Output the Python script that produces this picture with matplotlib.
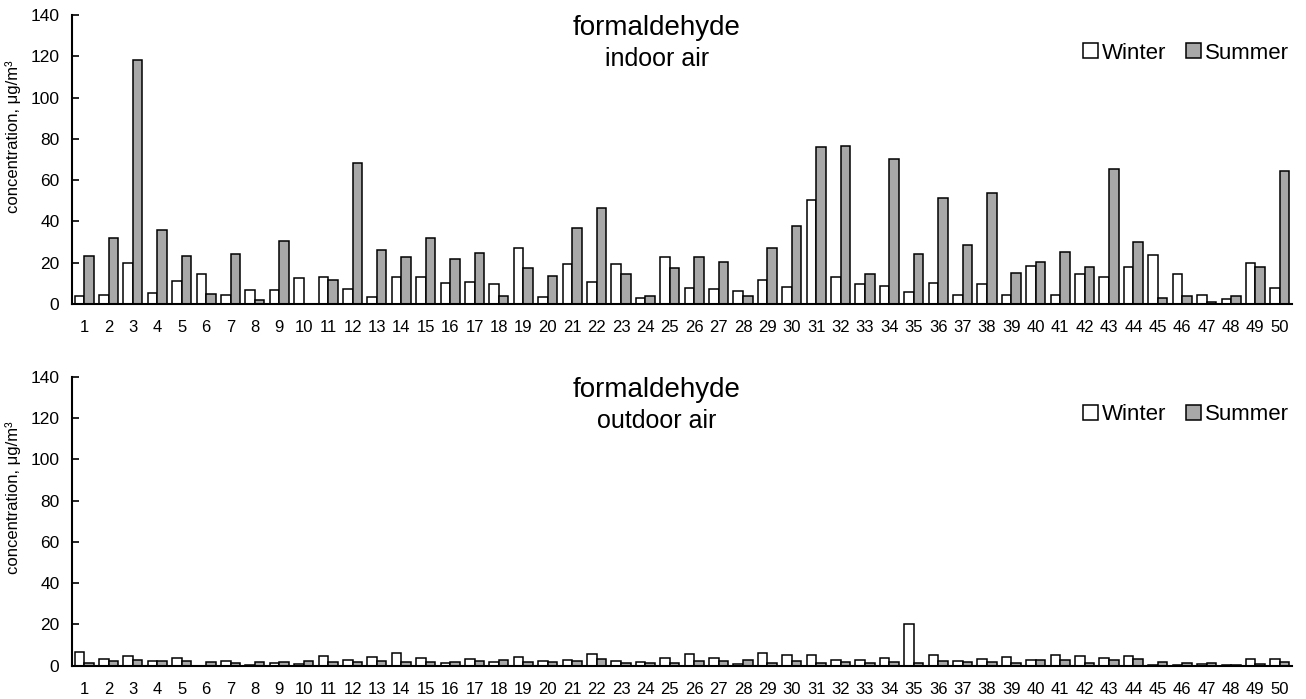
import matplotlib
matplotlib.use("Agg")
import matplotlib.pyplot as plt
import numpy as np

plt.rcParams['font.family'] = ['Liberation Sans', 'DejaVu Sans']

sites = list(range(1, 51))

# indoor air, ug/m3
indoor_winter = [3.9, 4.5, 20.0, 5.5, 11.3, 14.7, 4.2, 6.9, 6.9, 12.4,
                 13.2, 7.1, 3.2, 13.2, 13.1, 10.2, 10.8, 9.9, 27.3, 3.6,
                 19.4, 10.7, 19.5, 2.7, 22.8, 7.8, 7.1, 6.3, 11.5, 8.4,
                 50.2, 12.9, 9.9, 8.6, 5.7, 10.0, 4.5, 9.5, 4.5, 18.4,
                 4.5, 14.7, 12.9, 18.1, 23.9, 14.7, 4.5, 2.6, 19.9, 7.9]
indoor_summer = [23.4, 32.1, 118.0, 35.9, 23.1, 4.7, 24.1, 1.8, 30.5, 0.0,
                 11.8, 68.2, 26.0, 22.6, 32.1, 22.0, 24.9, 3.7, 17.3, 13.7,
                 37.0, 46.4, 14.5, 4.0, 17.6, 22.8, 20.5, 3.9, 27.0, 38.0,
                 76.1, 76.7, 14.7, 70.4, 24.2, 51.2, 28.8, 53.6, 15.2, 20.4,
                 25.0, 17.9, 65.3, 30.2, 2.7, 4.0, 1.0, 3.9, 17.8, 64.5]

# outdoor air, ug/m3
outdoor_winter = [6.6, 3.2, 4.5, 2.4, 3.9, 0.0, 2.1, 0.2, 1.1, 0.6,
                  4.7, 2.7, 4.2, 6.0, 3.9, 1.5, 3.1, 1.6, 4.2, 2.4,
                  2.7, 5.8, 2.1, 1.8, 3.6, 5.5, 3.7, 1.0, 6.1, 5.0,
                  5.0, 2.7, 2.7, 3.7, 20.4, 5.0, 2.1, 3.2, 4.2, 2.9,
                  5.2, 4.5, 3.9, 4.5, 0.3, 0.3, 0.8, 0.3, 3.1, 3.4]
outdoor_summer = [1.5, 2.1, 2.6, 2.4, 2.1, 1.9, 1.5, 1.9, 1.9, 2.4,
                  1.6, 1.8, 2.4, 1.9, 1.8, 1.9, 2.1, 2.9, 1.9, 1.8,
                  2.1, 3.2, 1.5, 1.3, 1.5, 2.1, 2.1, 2.6, 1.3, 2.1,
                  1.3, 1.6, 1.3, 1.8, 1.3, 2.3, 1.6, 1.6, 1.3, 2.8,
                  2.9, 1.5, 2.8, 3.1, 1.9, 1.3, 1.1, 0.3, 0.8, 1.8]

BAR_W = 0.39
SUMMER_COLOR = '#a8a8a8'


def draw_panel(ax, winter, summer, subtitle):
    x = np.array(sites)
    ax.bar(x - BAR_W / 2, winter, BAR_W, color='white', edgecolor='black',
           linewidth=1.1, label='Winter')
    ax.bar(x + BAR_W / 2, summer, BAR_W, color=SUMMER_COLOR, edgecolor='black',
           linewidth=1.1, label='Summer')

    ax.set_xlim(0.5, 50.5)
    ax.set_ylim(0, 140)
    ax.set_yticks(range(0, 141, 20))
    ax.set_xticks(x)
    ax.set_xticklabels([str(s) for s in sites])
    ax.tick_params(axis='x', length=0, pad=11.5, labelsize=12)
    ax.tick_params(axis='y', direction='in', length=5, width=1.2, pad=9,
                   labelsize=12.5)
    for side in ['top', 'right']:
        ax.spines[side].set_visible(False)
    ax.spines['left'].set_linewidth(1.5)
    ax.spines['bottom'].set_linewidth(1.5)

    ax.set_ylabel('concentration, μg/m³', fontsize=12)
    ax.yaxis.set_label_coords(-0.042, 0.58)

    ax.text(0.4795, 0.955, 'formaldehyde', transform=ax.transAxes,
            ha='center', va='center', fontsize=20)
    ax.text(0.4795, 0.848, subtitle, transform=ax.transAxes,
            ha='center', va='center', fontsize=18)

    ax.legend(loc='center right', bbox_to_anchor=(1.005, 0.868), ncol=2,
              frameon=False, fontsize=16, handlelength=0.65, handleheight=0.65,
              handletextpad=0.2, columnspacing=0.9, borderaxespad=0)


fig = plt.figure(figsize=(13.06, 6.99), dpi=100)
ax1 = fig.add_axes([0.0551, 0.5651, 0.9342, 0.4134])
ax2 = fig.add_axes([0.0551, 0.0476, 0.9342, 0.4135])

draw_panel(ax1, indoor_winter, indoor_summer, 'indoor air')
draw_panel(ax2, outdoor_winter, outdoor_summer, 'outdoor air')

fig.savefig('out.png', dpi=100)
